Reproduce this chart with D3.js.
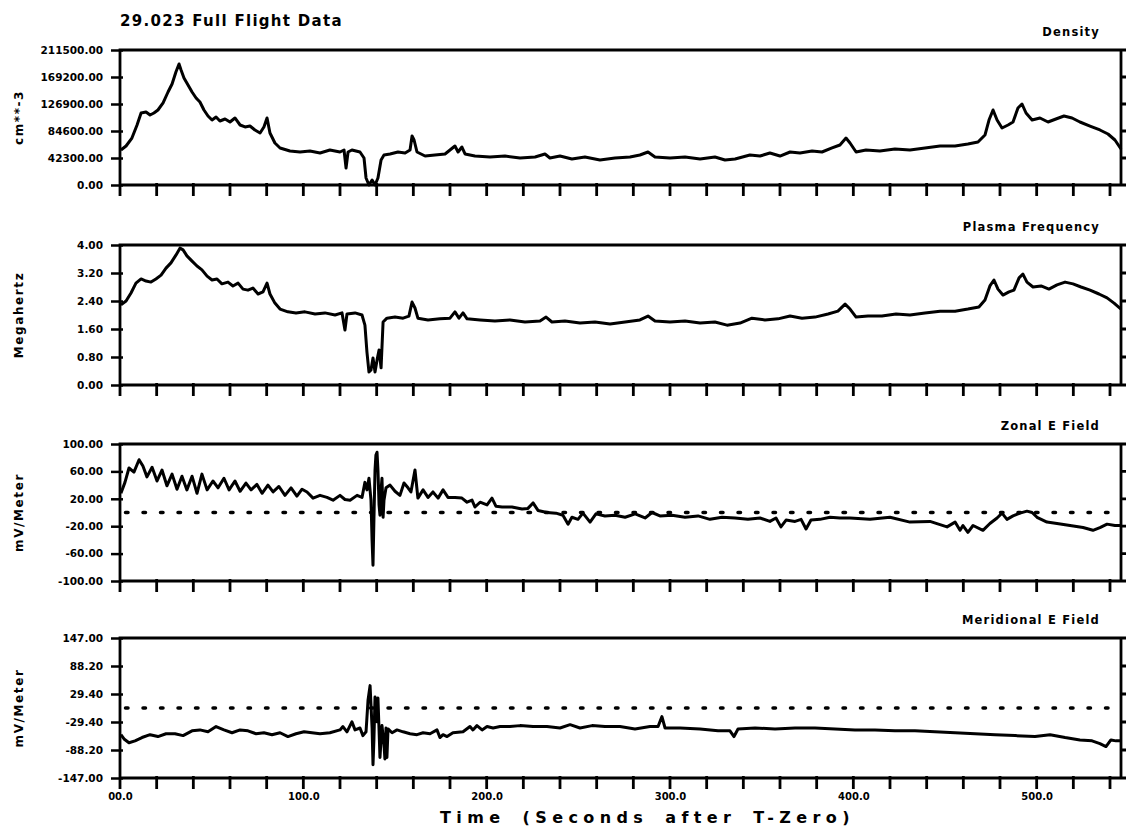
<!DOCTYPE html>
<html>
<head>
<meta charset="utf-8">
<script src="https://cdn.jsdelivr.net/npm/d3@7"></script>
<style>
  html, body { margin: 0; padding: 0; background: #fff; }
  svg { display: block; }
  text { font-family: "DejaVu Sans", sans-serif; font-weight: bold; fill: #000; }
</style>
</head>
<body>
<svg id="chart" width="1129" height="833"></svg>
<script>
// ---- Flight 29.023 samples: [seconds after T-zero, value] ----
const densitySeries = [[0.5,54800],[3.3,61100],[6.5,73600],[9.3,94000],[11.5,112800],[14.2,114400],[16.4,109700],[18.5,112800],[20.7,117500],[23.5,128500],[26.2,145700],[28.4,158200],[30.5,177000],[32.2,189600],[33.3,180200],[34.9,167600],[37.1,156700],[39.3,145700],[41.5,136300],[43.6,130000],[45.8,117500],[48.0,108100],[50.2,101800],[52.4,106500],[54.5,100300],[57.3,103400],[60.0,98700],[62.7,105000],[65.5,94000],[68.2,90900],[70.9,92400],[73.6,86200],[76.4,81500],[78.5,90900],[80.2,105000],[81.8,81500],[84.5,65800],[87.3,58000],[92.7,53300],[98.2,51700],[103.6,53300],[109.1,50100],[114.5,54800],[120.0,51700],[122.2,54800],[123.3,26600],[124.4,51700],[126.5,54800],[130.9,51700],[133.1,42300],[134.2,11000],[135.8,0],[137.5,7800],[139.1,0],[140.7,11000],[142.4,39200],[144.0,47000],[147.3,48600],[151.6,51700],[155.5,50100],[158.2,54800],[159.3,76800],[160.4,70500],[162.0,51700],[166.4,45400],[171.8,47000],[177.3,48600],[180.0,54800],[182.7,61100],[184.4,51700],[186.5,59500],[188.2,48600],[193.6,45400],[201.8,43900],[210.0,45400],[218.2,42300],[226.4,43900],[231.8,48600],[234.5,42300],[240.0,45400],[246.5,40700],[253.6,43900],[261.8,39200],[270.0,42300],[278.2,43900],[283.6,47000],[288.0,51700],[291.8,43900],[300.0,42300],[308.2,43900],[316.4,40700],[324.5,43900],[330.0,39200],[335.5,40700],[343.6,47000],[349.1,45400],[354.5,50100],[360.0,45400],[365.5,51700],[370.9,50100],[377.5,53300],[382.9,51700],[388.4,58000],[392.7,62700],[396.0,73600],[398.2,65800],[401.5,51700],[406.9,54800],[414.5,53300],[422.7,56400],[430.9,54800],[439.1,58000],[447.3,61100],[455.5,61100],[462.5,64200],[468.0,67400],[471.8,78300],[474.0,101800],[476.2,117500],[478.4,101800],[481.1,89300],[484.4,94000],[487.1,98700],[489.8,120600],[492.0,126900],[494.2,112800],[497.5,101800],[501.8,105000],[506.2,98700],[510.5,103400],[514.9,108100],[519.3,105000],[523.6,98700],[529.1,92400],[534.5,86200],[538.9,79900],[542.7,70500],[546.0,56400]];

const plasmaSeries = [[0.5,2.29],[3.3,2.40],[6.0,2.63],[8.7,2.91],[11.5,3.03],[14.2,2.97],[16.9,2.94],[19.6,3.03],[22.4,3.14],[25.1,3.34],[27.8,3.49],[30.5,3.71],[32.7,3.91],[34.4,3.86],[36.5,3.69],[39.3,3.54],[42.0,3.40],[44.7,3.29],[47.5,3.11],[50.2,3.00],[52.9,3.03],[55.6,2.89],[58.9,2.94],[61.6,2.83],[64.4,2.91],[67.1,2.74],[69.8,2.71],[72.5,2.77],[75.3,2.60],[78.0,2.66],[80.2,2.91],[81.8,2.60],[84.5,2.34],[87.3,2.17],[91.6,2.09],[96.0,2.06],[100.9,2.09],[106.4,2.03],[111.8,2.06],[117.3,2.00],[121.1,2.06],[122.7,1.57],[123.8,2.03],[128.2,2.06],[132.0,2.00],[133.6,1.71],[134.7,0.94],[135.8,0.37],[136.9,0.43],[138.0,0.77],[139.1,0.37],[140.2,0.71],[141.3,1.00],[142.4,0.49],[143.5,1.80],[145.6,1.91],[150.0,1.94],[154.4,1.91],[157.6,1.97],[159.3,2.37],[160.9,2.20],[162.5,1.91],[168.0,1.86],[174.5,1.89],[180.0,1.91],[182.7,2.09],[184.9,1.91],[187.1,2.06],[189.3,1.89],[196.4,1.86],[204.5,1.83],[212.7,1.86],[220.9,1.80],[229.1,1.83],[232.4,1.94],[235.6,1.80],[242.7,1.83],[250.9,1.77],[259.1,1.80],[267.3,1.74],[275.5,1.80],[283.6,1.86],[288.0,1.97],[291.8,1.83],[300.0,1.80],[308.2,1.83],[316.4,1.77],[324.5,1.80],[331.1,1.71],[338.2,1.77],[344.7,1.91],[351.8,1.86],[358.9,1.89],[365.5,1.97],[372.0,1.91],[379.1,1.94],[386.2,2.03],[391.6,2.11],[395.5,2.31],[398.2,2.17],[401.5,1.94],[408.0,1.97],[415.6,1.97],[423.3,2.03],[430.9,2.00],[439.1,2.06],[447.3,2.11],[455.5,2.11],[462.5,2.17],[468.5,2.23],[471.8,2.43],[474.5,2.83],[476.7,3.00],[478.9,2.74],[481.6,2.57],[484.9,2.66],[487.6,2.71],[490.4,3.06],[492.5,3.17],[494.7,2.94],[498.0,2.80],[502.4,2.83],[506.7,2.74],[511.1,2.86],[515.5,2.94],[519.8,2.89],[524.2,2.80],[529.1,2.71],[534.0,2.60],[538.4,2.49],[542.2,2.34],[546.0,2.17]];

const zonalSeries = [[0.5,28],[2.7,44],[4.9,65],[7.6,59],[10.4,77],[12.5,68],[14.7,52],[17.5,66],[20.2,46],[22.9,62],[25.6,39],[28.4,56],[31.1,34],[33.8,53],[36.5,33],[39.3,53],[42.0,28],[44.7,56],[47.5,33],[50.7,46],[53.5,36],[56.7,50],[59.5,33],[62.7,46],[65.5,31],[68.7,43],[71.5,33],[74.7,41],[77.5,28],[80.7,40],[83.5,30],[86.7,38],[90.0,25],[93.3,36],[96.5,24],[99.3,34],[102.0,30],[105.3,21],[109.1,25],[112.9,22],[116.2,18],[120.0,25],[122.7,19],[125.5,18],[129.3,25],[132.0,22],[133.6,44],[134.7,33],[135.8,50],[136.9,18],[137.5,-41],[138.0,-77],[138.5,-11],[139.1,62],[139.6,84],[140.2,88],[140.7,62],[141.3,11],[141.8,-4],[142.4,33],[142.9,50],[143.5,-7],[144.0,18],[145.1,36],[147.3,40],[150.0,31],[152.7,25],[154.9,43],[157.1,36],[158.7,30],[160.9,62],[162.5,21],[165.3,33],[168.0,22],[170.7,30],[173.5,21],[176.2,33],[178.9,22],[182.7,22],[186.5,21],[189.3,15],[192.0,18],[193.6,8],[196.4,15],[200.2,11],[202.9,21],[205.1,9],[208.4,8],[213.8,8],[219.3,5],[222.5,6],[225.3,14],[228.0,3],[232.9,0],[237.8,-1],[241.6,-4],[244.4,-17],[246.5,-7],[249.8,-10],[252.5,-1],[256.4,-14],[259.6,-2],[264.5,-5],[270.0,-4],[275.5,-7],[281.0,-2],[286.4,-8],[290.2,0],[294.5,-5],[301.1,-4],[308.2,-7],[315.3,-5],[321.8,-10],[328.4,-7],[335.5,-8],[342.5,-10],[349.1,-8],[354.5,-13],[357.8,-8],[360.5,-21],[363.3,-11],[368.2,-13],[371.5,-10],[374.2,-24],[376.9,-11],[381.8,-10],[387.3,-7],[392.7,-8],[398.2,-8],[409.1,-10],[420.0,-7],[430.9,-14],[441.8,-13],[451.1,-21],[455.5,-14],[458.2,-26],[459.8,-19],[462.5,-29],[465.3,-19],[470.7,-26],[474.5,-16],[478.4,-8],[481.1,-1],[483.8,-10],[487.1,-5],[490.9,-1],[494.7,2],[497.5,0],[500.2,-7],[505.6,-14],[511.1,-16],[518.2,-19],[525.3,-22],[530.7,-26],[534.5,-22],[538.4,-17],[542.7,-19],[546.0,-19]];

const meridionalSeries = [[0.5,-56],[2.2,-65],[4.9,-73],[8.2,-69],[12.0,-62],[16.4,-56],[20.7,-60],[25.1,-54],[30.0,-54],[34.4,-58],[39.3,-48],[43.6,-46],[48.0,-50],[52.4,-39],[56.7,-46],[61.1,-52],[65.5,-46],[69.8,-48],[74.2,-54],[78.5,-52],[82.9,-56],[87.3,-52],[91.6,-60],[96.0,-54],[100.4,-50],[104.7,-52],[109.1,-54],[114.5,-52],[120.0,-46],[121.6,-39],[123.8,-50],[126.5,-29],[128.2,-46],[130.9,-42],[132.5,-58],[134.2,-50],[135.3,17],[136.4,47],[136.9,7],[137.5,-42],[138.0,-119],[138.5,-67],[139.1,23],[139.6,-8],[140.2,-29],[140.7,21],[141.3,-46],[141.8,-104],[142.4,-67],[142.9,-37],[144.0,-77],[144.5,-107],[145.1,-42],[145.6,-104],[146.2,-44],[148.4,-52],[151.1,-46],[154.4,-50],[158.2,-54],[162.0,-56],[165.3,-52],[169.1,-54],[172.9,-46],[174.5,-62],[176.2,-56],[178.4,-60],[181.6,-52],[187.1,-50],[190.9,-39],[192.5,-46],[194.7,-37],[197.5,-46],[200.2,-39],[203.5,-42],[207.3,-39],[212.7,-39],[218.2,-37],[225.3,-39],[232.9,-39],[240.0,-42],[245.5,-35],[250.9,-42],[257.5,-37],[264.5,-39],[272.7,-39],[280.9,-44],[289.1,-39],[293.5,-39],[295.6,-18],[297.3,-42],[305.5,-42],[316.4,-44],[326.2,-48],[332.7,-48],[334.9,-60],[337.1,-44],[346.4,-42],[357.3,-44],[368.2,-42],[379.1,-42],[390.0,-44],[400.9,-46],[411.8,-46],[422.7,-48],[433.6,-48],[444.5,-50],[455.5,-52],[466.4,-54],[477.3,-56],[488.2,-58],[499.1,-60],[507.3,-56],[515.5,-62],[523.6,-67],[530.2,-69],[534.5,-75],[537.8,-81],[540.5,-67],[543.3,-69],[546.0,-69]];

// ---- Axis ticks and labels ----
const timeDomain = [0, 546];
const timeMinorTicks = d3.range(0, 541, 20);
const timeLabelValues = [0, 100, 200, 300, 400, 500];
const timeLabels = ["00.0", "100.0", "200.0", "300.0", "400.0", "500.0"];

const densityTicks = [0, 42300, 84600, 126900, 169200, 211500];
const densityTickLabels = ["0.00", "42300.00", "84600.00", "126900.00", "169200.00", "211500.00"];
const plasmaTicks = [0, 0.8, 1.6, 2.4, 3.2, 4.0];
const plasmaTickLabels = ["0.00", "0.80", "1.60", "2.40", "3.20", "4.00"];
const zonalTicks = [-100, -60, -20, 20, 60, 100];
const zonalTickLabels = ["-100.00", "-60.00", "-20.00", "20.00", "60.00", "100.00"];
const meridionalTicks = [-147, -88.2, -29.4, 29.4, 88.2, 147];
const meridionalTickLabels = ["-147.00", "-88.20", "-29.40", "29.40", "88.20", "147.00"];

const panelTitles = ["Density", "Plasma Frequency", "Zonal E Field", "Meridional E Field"];
const unitLabels = ["cm**-3", "Megahertz", "mV/Meter", "mV/Meter"];

// ---- Layout ----
const svg = d3.select("#chart");
const plotLeft = 120, plotRight = 1121;
const frames = [
  { top: 50, bottom: 185 },
  { top: 245, bottom: 385 },
  { top: 444, bottom: 581 },
  { top: 638, bottom: 778 }
];

const panels = [
  { series: densitySeries, ticks: densityTicks, labels: densityTickLabels, zeroLine: false },
  { series: plasmaSeries, ticks: plasmaTicks, labels: plasmaTickLabels, zeroLine: false },
  { series: zonalSeries, ticks: zonalTicks, labels: zonalTickLabels, zeroLine: true },
  { series: meridionalSeries, ticks: meridionalTicks, labels: meridionalTickLabels, zeroLine: true }
];

const x = d3.scaleLinear().domain(timeDomain).range([plotLeft, plotRight]);

svg.append("text")
  .attr("x", 120).attr("y", 26)
  .attr("font-size", 15).attr("letter-spacing", 1.3)
  .text("29.023 Full Flight Data");

panels.forEach((p, i) => {
  const f = frames[i];
  const y = d3.scaleLinear()
    .domain([p.ticks[0], p.ticks[p.ticks.length - 1]])
    .range([f.bottom, f.top]);

  // frame outline together with the hanging time ticks and right-edge ticks
  const outline = d3.path();
  outline.moveTo(plotLeft, f.top);
  outline.lineTo(plotRight, f.top);
  outline.lineTo(plotRight, f.bottom);
  outline.lineTo(plotLeft, f.bottom);
  outline.closePath();
  timeMinorTicks.forEach(t => {
    outline.moveTo(x(t), f.bottom - 2);
    outline.lineTo(x(t), f.bottom + 11);
  });
  p.ticks.forEach(v => {
    outline.moveTo(plotRight, y(v));
    outline.lineTo(plotRight + 5, y(v));
  });
  svg.append("path")
    .attr("d", outline.toString())
    .attr("fill", "none").attr("stroke", "#000").attr("stroke-width", 2.8);

  // left value axis
  const ly = svg.append("g").attr("transform", `translate(${plotLeft},0)`)
    .call(d3.axisLeft(y).tickValues(p.ticks).tickSize(8).tickPadding(9)
      .tickFormat((d, k) => p.labels[k]));
  ly.select(".domain").remove();
  ly.selectAll(".tick line").attr("stroke", "#000").attr("stroke-width", 2.5).attr("x2", -9).attr("x1", 3);
  ly.selectAll(".tick text")
    .attr("font-size", 10.5).attr("font-family", "DejaVu Sans")
    .attr("font-weight", "bold").attr("fill", "#000");

  // zero reference
  if (p.zeroLine) {
    svg.append("line")
      .attr("x1", x(3)).attr("x2", x(543))
      .attr("y1", y(0)).attr("y2", y(0))
      .attr("stroke", "#000").attr("stroke-width", 3.5)
      .attr("stroke-linecap", "round")
      .attr("stroke-dasharray", "2.5,15");
  }

  // data trace
  svg.append("path")
    .datum(p.series)
    .attr("fill", "none").attr("stroke", "#000")
    .attr("stroke-width", 3).attr("stroke-linejoin", "round")
    .attr("d", d3.line().x(d => x(d[0])).y(d => y(d[1])));

  // titles
  svg.append("text")
    .attr("x", 1100).attr("y", f.top - 14)
    .attr("text-anchor", "end")
    .attr("font-size", 11.5).attr("letter-spacing", 1.2)
    .text(panelTitles[i]);

  svg.append("text")
    .attr("transform", `translate(23,${(f.top + f.bottom) / 2}) rotate(-90)`)
    .attr("text-anchor", "middle")
    .attr("font-size", 12).attr("letter-spacing", 1.6)
    .text(unitLabels[i]);
});

// time labels under the last panel
const last = frames[frames.length - 1];
const tx = svg.append("g").attr("transform", `translate(0,${last.bottom + 8})`)
  .call(d3.axisBottom(x).tickValues(timeLabelValues).tickSize(0).tickPadding(7)
    .tickFormat((d, k) => timeLabels[k]));
tx.select(".domain").remove();
tx.selectAll(".tick text")
  .attr("font-size", 10).attr("font-family", "DejaVu Sans")
  .attr("font-weight", "bold").attr("fill", "#000");

svg.append("text")
  .attr("x", 440).attr("y", 823)
  .attr("font-size", 16).attr("letter-spacing", 5.4).attr("word-spacing", 6)
  .text("Time (Seconds after T-Zero)");
</script>
</body>
</html>
